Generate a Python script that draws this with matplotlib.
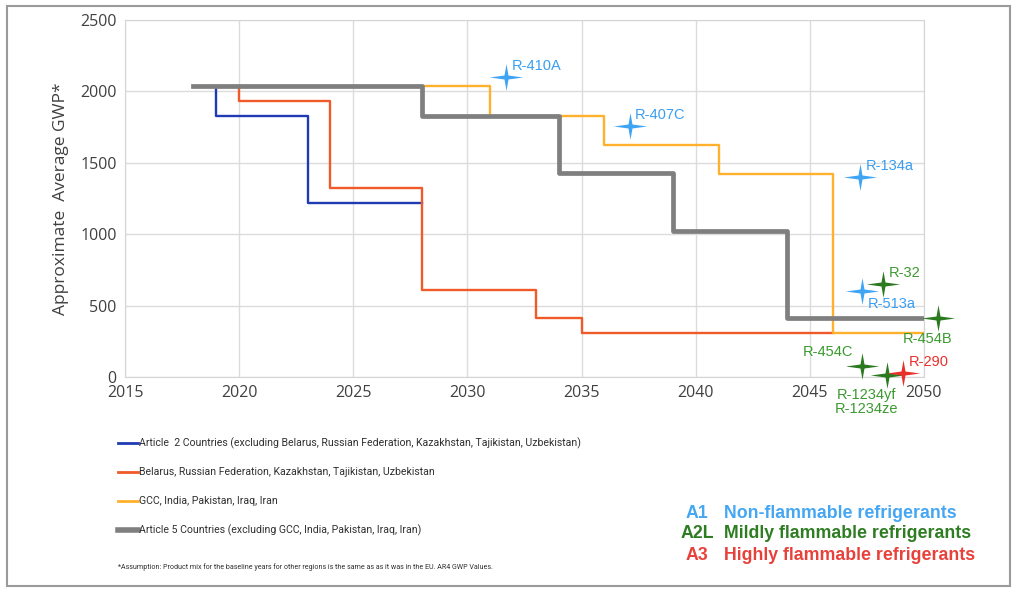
import matplotlib
matplotlib.use("Agg")
import matplotlib.pyplot as plt
from matplotlib.path import Path
from matplotlib.lines import Line2D
from matplotlib.patches import Rectangle

# step series: change years and GWP levels (drawn with where='post')
a2_years = [2019, 2019, 2023, 2028]
a2_gwp = [2035, 1830, 1220, 1220]
bel_years = [2020, 2020, 2024, 2028, 2033, 2035, 2046]
bel_gwp = [2035, 1935, 1325, 610, 410, 310, 310]
gcc_years = [2018, 2031, 2036, 2041, 2046, 2050]
gcc_gwp = [2035, 1830, 1625, 1425, 310, 310]
a5_years = [2018, 2028, 2034, 2039, 2044, 2050]
a5_gwp = [2035, 1830, 1430, 1025, 410, 410]

series_labels = [
    "Article  2 Countries (excluding Belarus, Russian Federation, Kazakhstan, Tajikistan, Uzbekistan)",
    "Belarus, Russian Federation, Kazakhstan, Tajikistan, Uzbekistan",
    "GCC, India, Pakistan, Iraq, Iran",
    "Article 5 Countries (excluding GCC, India, Pakistan, Iraq, Iran)",
]

# refrigerants: name, year, GWP, safety class
ref_names = ["R-410A", "R-407C", "R-134a", "R-513a", "R-32", "R-454B",
             "R-454C", "R-1234yf\nR-1234ze", "R-290"]
ref_years = [2031.7, 2037.1, 2047.2, 2047.3, 2048.2, 2050.6, 2047.3, 2048.4, 2049.1]
ref_gwp = [2100, 1760, 1400, 600, 650, 415, 75, 12, 28]
ref_class = ["A1", "A1", "A1", "A1", "A2L", "A2L", "A2L", "A2L", "A3"]

class_names = ["A1", "A2L", "A3"]
class_desc = ["Non-flammable refrigerants", "Mildly flammable refrigerants",
              "Highly flammable refrigerants"]

star_col = {"A1": "#3fa4f2", "A2L": "#2b7a20", "A3": "#e8302a"}
text_col = {"A1": "#3a9ef0", "A2L": "#3b9a2f", "A3": "#e8302a"}
key_col = {"A1": "#45a6f2", "A2L": "#2e7d22", "A3": "#e8403a"}
# label offsets in points (dx, dy, ha, va)
label_pos = {
    "R-410A": (4, 3, "left", "bottom"),
    "R-407C": (4, 3, "left", "bottom"),
    "R-134a": (4, 3, "left", "bottom"),
    "R-513a": (4, -4, "left", "top"),
    "R-32": (4, 3, "left", "bottom"),
    "R-454B": (-7, -10, "center", "top"),
    "R-454C": (-25, 5, "center", "bottom"),
    "R-1234yf\nR-1234ze": (-15, -9, "center", "top"),
    "R-290": (4, 3, "left", "bottom"),
}

# four-pointed star marker
star = Path([(0, 1.0), (0.15, 0.15), (1.25, 0), (0.15, -0.15), (0, -1.0),
             (-0.15, -0.15), (-1.25, 0), (-0.15, 0.15), (0, 1.0)],
            closed=True)

fig = plt.figure(figsize=(10.24, 5.95), dpi=100)
ax = fig.add_axes([125 / 1024, 1 - 377 / 595, 799 / 1024, 357 / 595])

ax.step(a2_years, a2_gwp, where="post", color="#1f3bb3", lw=1.7)
ax.step(bel_years, bel_gwp, where="post", color="#f05a28", lw=1.7)
ax.step(gcc_years, gcc_gwp, where="post", color="#ffb12e", lw=1.7)
ax.step(a5_years, a5_gwp, where="post", color="#7f7f7f", lw=3.4)

for name, yr, g, c in zip(ref_names, ref_years, ref_gwp, ref_class):
    ax.plot(yr, g, marker=star, markersize=24, color=star_col[c],
            markeredgewidth=0, linestyle="none", clip_on=False, zorder=5)
    dx, dy, ha, va = label_pos[name]
    ax.annotate(name, (yr, g), xytext=(dx, dy), textcoords="offset points",
                ha=ha, va=va, color=text_col[c], fontsize=10.5,
                family="Liberation Sans", linespacing=1.05,
                annotation_clip=False, zorder=6)

ax.set_xlim(2015, 2050)
ax.set_ylim(0, 2500)
ax.set_xticks(range(2015, 2051, 5))
ax.set_yticks(range(0, 2501, 500))
ax.grid(True, color="#dcdcdc", lw=1)
ax.set_axisbelow(True)
for s in ax.spines.values():
    s.set_color("#d5d5d5")
ax.tick_params(length=0, labelsize=11.5, labelcolor="#404040", pad=6)
for lab in ax.get_xticklabels() + ax.get_yticklabels():
    lab.set_family("Open Sans")
ax.set_ylabel("Approximate  Average GWP*", fontsize=12.5, family="Open Sans",
              color="#404040", labelpad=8)

# series legend
leg_cols = ["#1f3bb3", "#f05a28", "#ffb12e", "#7f7f7f"]
leg_lw = [2, 2, 2, 4]
leg_y = [443, 472, 501, 530]
for lab, col, lw, y in zip(series_labels, leg_cols, leg_lw, leg_y):
    fy = 1 - y / 595
    fig.add_artist(Line2D([118 / 1024, 138 / 1024], [fy, fy], color=col, lw=lw))
    fig.text(139 / 1024, fy, lab, fontsize=7.6, va="center", color="#303030",
             family="Roboto")
fig.text(118 / 1024, 1 - 567 / 595,
         "*Assumption: Product mix for the baseline years for other regions is the same as as it was in the EU. AR4 GWP Values.",
         fontsize=5.1, va="center", color="#303030", family="Roboto")

# flammability key
key_y = [513, 534, 555]
for cn, cd, y in zip(class_names, class_desc, key_y):
    fy = 1 - y / 595
    fig.text(697 / 1024, fy, cn, fontsize=12.8, weight="bold", ha="center",
             va="center", color=key_col[cn], family="Liberation Sans")
    fig.text(724 / 1024, fy, cd, fontsize=12.8, weight="bold", va="center",
             color=key_col[cn], family="Liberation Sans")

# outer frame
fig.add_artist(Rectangle((7 / 1024, 1 - 586 / 595), 1003 / 1024, 580 / 595,
                         fill=False, edgecolor="#9a9a9a", lw=1.5,
                         transform=fig.transFigure))

fig.savefig("out.png", dpi=100, facecolor="white")
